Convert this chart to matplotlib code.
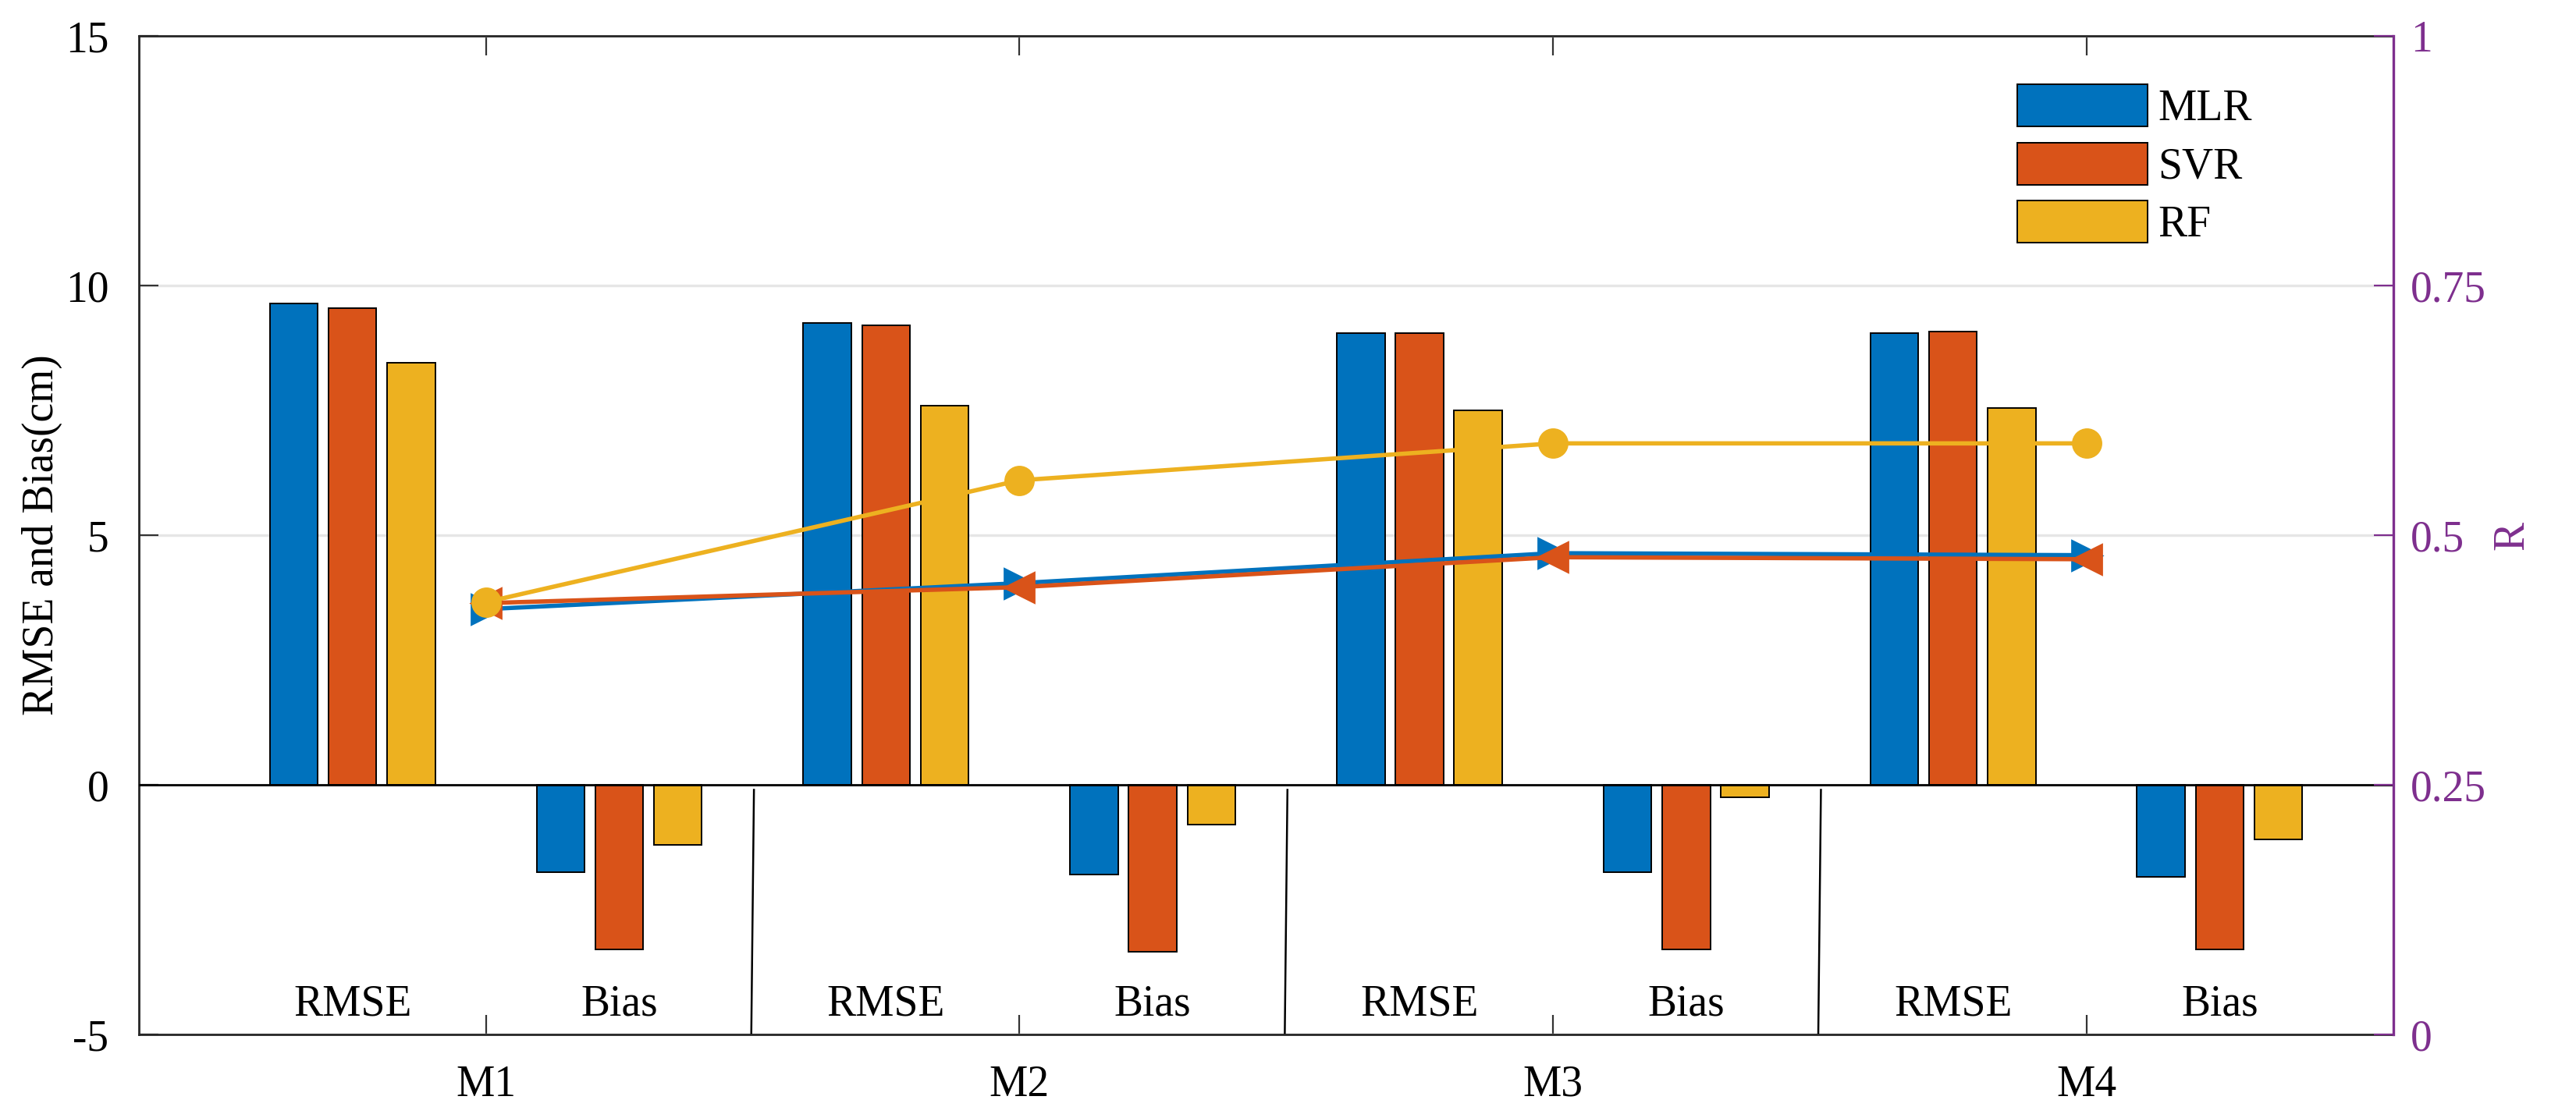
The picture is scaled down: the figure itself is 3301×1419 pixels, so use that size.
import numpy as np
import matplotlib
matplotlib.use('Agg')
import matplotlib.pyplot as plt

plt.rcParams['font.family'] = ['Liberation Serif', 'DejaVu Serif']
plt.rcParams['font.size'] = 20

# data
models = ['M1', 'M2', 'M3', 'M4']
groups = ['RMSE', 'Bias', 'RMSE', 'Bias', 'RMSE', 'Bias', 'RMSE', 'Bias']
methods = ['MLR', 'SVR', 'RF']
mlr_vals = [9.65, -1.75, 9.25, -1.8, 9.05, -1.75, 9.05, -1.85]
svr_vals = [9.55, -3.3, 9.2, -3.35, 9.05, -3.3, 9.08, -3.3]
rf_vals = [8.45, -1.2, 7.6, -0.8, 7.5, -0.25, 7.55, -1.1]
r_mlr = [0.426, 0.452, 0.482, 0.480]
r_svr = [0.432, 0.448, 0.478, 0.476]
r_rf = [0.433, 0.555, 0.592, 0.592]

blue = '#0072BD'
orange = '#D95319'
yellow = '#EDB120'
purple = '#7E2F8E'

fig = plt.figure(figsize=(16.505, 7.095), dpi=200)
ax = fig.add_axes([0.054, 0.0655, 0.875, 0.902])

x = np.arange(1, len(groups) + 1)
w = 0.18
off = 0.22
ax.bar(x - off, mlr_vals, w, color=blue, edgecolor='black', linewidth=0.7, label='MLR', zorder=3)
ax.bar(x, svr_vals, w, color=orange, edgecolor='black', linewidth=0.7, label='SVR', zorder=3)
ax.bar(x + off, rf_vals, w, color=yellow, edgecolor='black', linewidth=0.7, label='RF', zorder=3)
ax.axhline(0, color='black', linewidth=1.0, zorder=4)

# separators between models
for s in [2.5, 4.5, 6.5]:
    ax.plot([s + 0.005, s - 0.005], [-0.1, -5], color='black', linewidth=0.9, zorder=2)

for xi, g in zip(x, groups):
    ax.text(xi, -4.4, g, ha='center', va='center', fontsize=20)

ax.set_xlim(0.2, 8.65)
ax.set_ylim(-5, 15)
ax.set_yticks([-5, 0, 5, 10, 15])
ax.set_yticklabels(['-5', '0', '5', '10', '15'])
mpos = [1.5, 3.5, 5.5, 7.5]
ax.set_xticks(mpos)
ax.set_xticklabels(models)
ax.set_ylabel('RMSE and Bias(cm)')
ax.yaxis.set_label_coords(-0.034, 0.5)
ax.grid(axis='y', color='#e6e6e6', linewidth=1.2, zorder=0)
ax.set_axisbelow(True)
ax.tick_params(axis='both', direction='in', length=9, width=0.8, color='#333333')
ax.tick_params(axis='x', top=True, pad=14)
ax.tick_params(axis='y', pad=14)
for sp in ax.spines.values():
    sp.set_color('#262626')
    sp.set_linewidth(1.0)

ax.legend(loc='upper left', bbox_to_anchor=(2585 / 3301, 1 - 108 / 1419),
          bbox_transform=fig.transFigure, frameon=False, borderpad=0,
          borderaxespad=0, handlelength=3.0, handleheight=1.12,
          labelspacing=0.3, handletextpad=0.25, fontsize=20)

ax2 = ax.twinx()
ax2.plot(mpos, r_mlr, color=blue, marker='>', markersize=14, linewidth=2, zorder=5)
ax2.plot(mpos, r_svr, color=orange, marker='<', markersize=14, linewidth=2, zorder=5)
ax2.plot(mpos, r_rf, color=yellow, marker='o', markersize=13, linewidth=2, zorder=5)
ax2.set_ylim(0, 1)
ax2.set_yticks([0, 0.25, 0.5, 0.75, 1])
ax2.set_yticklabels(['0', '0.25', '0.5', '0.75', '1'])
ax2.set_ylabel('R', color=purple)
ax2.yaxis.set_label_coords(1.044, 0.5)
ax2.tick_params(axis='y', direction='in', length=9, width=0.8, colors=purple, pad=8)
ax2.spines['right'].set_color(purple)
ax2.spines['right'].set_linewidth(1.2)
for k in ['left', 'top', 'bottom']:
    ax2.spines[k].set_visible(False)

fig.savefig('out.png', dpi=200)
